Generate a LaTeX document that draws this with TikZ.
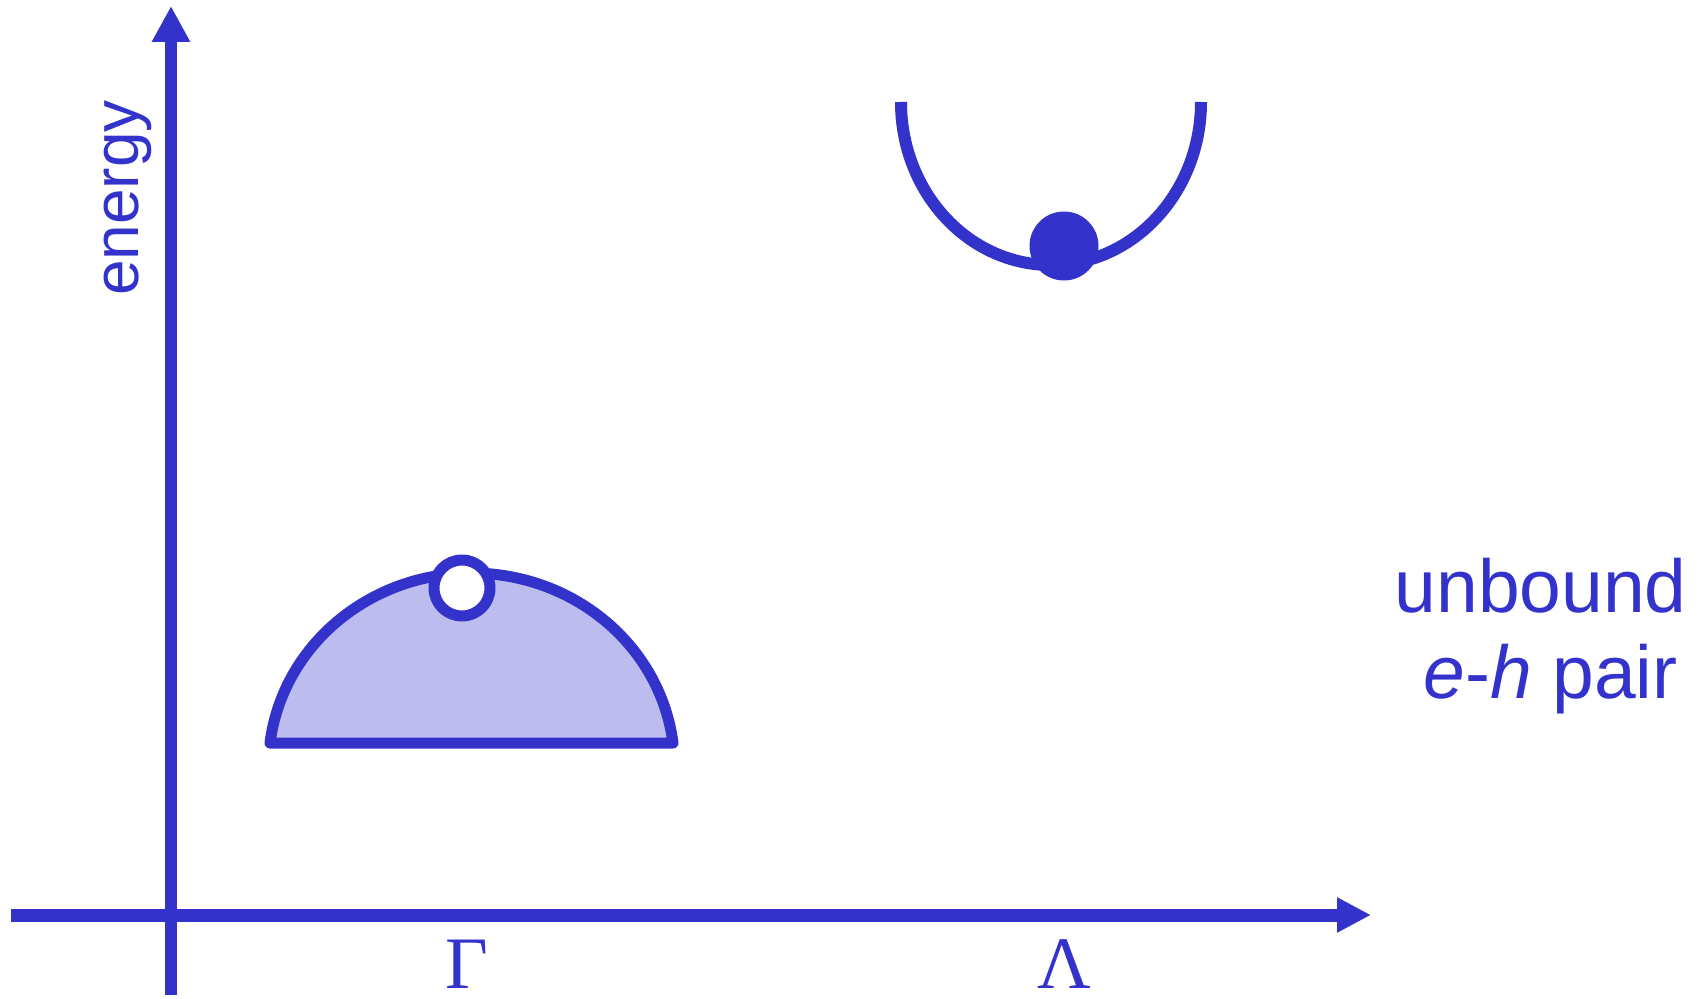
\documentclass[tikz,border=0pt]{standalone}
\usepackage{fontspec}
\setmainfont{Liberation Serif}
\setsansfont{Liberation Sans}
\usetikzlibrary{arrows.meta,positioning}
\definecolor{ehBlue}{HTML}{3333CC}
\tikzset{
 bands/.style={line cap=butt,line join=round,text=ehBlue},
 axis/.style={draw=ehBlue,line width=6pt,-{Triangle[length=18pt,width=18pt]}},
 valence/.style={draw=ehBlue,fill=ehBlue!33,line width=5.5pt,line join=round},
 conduction/.style={draw=ehBlue,line width=6pt},
 hole/.style={circle,draw=ehBlue,fill=white,line width=5.5pt,inner sep=0pt,minimum size=28pt},
 electron/.style={circle,fill=ehBlue,inner sep=0pt,minimum size=34.5pt},
 kpoint/.style={font=\fontsize{37}{40}\selectfont,inner sep=0pt},
 caption/.style={font=\sffamily\fontsize{37.5}{40}\selectfont,inner sep=0pt,anchor=base east}
}
\begin{document}
\begin{tikzpicture}[bands,x=.5pt,y=.5pt]
 \useasboundingbox (0,0) rectangle (1704,998);
 \coordinate (ebot) at (171,3); \coordinate (etop) at (171,992);
 \coordinate (kleft) at (11,83); \coordinate (kright) at (1371,83);
 \draw[axis] (ebot)--(etop);
 \draw[axis,line width=6.5pt,-{Triangle[length=17pt,width=16.5pt]}] (kleft)--(kright);
 % valence band with hole
 \draw[valence] (270,255) arc[start angle=173,end angle=7,x radius=203,y radius=193.5] -- cycle;
 \node[hole] (h) at (462,410) {};
 % conduction band with electron
 \draw[conduction] (901,896) arc[start angle=180,end angle=360,x radius=150,y radius=163];
 \node[electron] (e) at (1064,752) {};
 \node[kpoint] (gam) at (467,34) {Γ};
 \node[kpoint] (lam) at (1064,34) {Λ};
 \node[font=\sffamily\fontsize{32}{36}\selectfont,inner sep=0pt,rotate=90,anchor=base] (en) at (138,800) {energy};
 \node[caption] (ub) at (1687,386) {unbound};
 \node[caption] (pr) at (1678,300) {\textit{e}-\textit{h} pair};
\end{tikzpicture}
\end{document}
